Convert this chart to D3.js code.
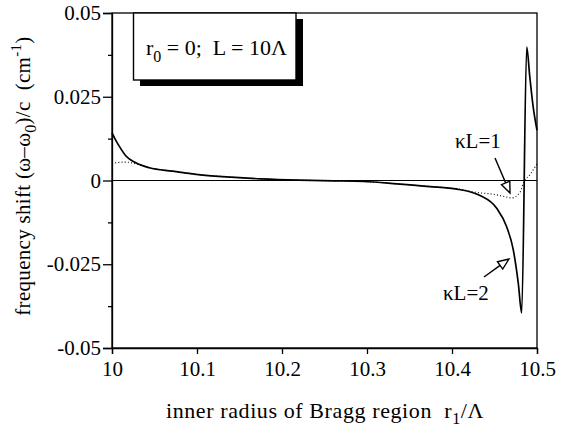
<!DOCTYPE html>
<html>
<head>
<meta charset="utf-8">
<script src="https://cdn.jsdelivr.net/npm/d3@7"></script>
<style>
  body { margin: 0; background: #fff; }
  svg text { font-family: "Liberation Serif", "Times New Roman", serif; white-space: pre; fill: #000; }
  .axis path, .axis line { stroke: #000; stroke-width: 1.3; }
</style>
</head>
<body>
<script>
// kL = 2 (solid)
var rSolid = [10.000, 10.004, 10.0086, 10.0164, 10.028, 10.044, 10.071, 10.104, 10.14, 10.175,
  10.22, 10.26, 10.296, 10.335, 10.374, 10.406, 10.42, 10.433, 10.4526, 10.4643,
  10.4721, 10.478, 10.482, 10.4879, 10.4915, 10.4955, 10.5];
var shiftSolid = [0.0142, 0.0122, 0.0102, 0.0073, 0.0053, 0.0038, 0.0028, 0.0017, 0.0010, 0.0005,
  0.0001, -0.0001, -0.0003, -0.0010, -0.0018, -0.0026, -0.0033, -0.0045, -0.0083, -0.0138,
  -0.0207, -0.0307, -0.0395, 0.0398, 0.031, 0.022, 0.015];

// kL = 1 (dotted)
var rDotted = [10.000, 10.005, 10.016, 10.028, 10.044, 10.071, 10.104, 10.14, 10.175, 10.22,
  10.26, 10.296, 10.335, 10.374, 10.406, 10.433, 10.4486, 10.4604, 10.4702, 10.48,
  10.4847, 10.4918, 10.5];
var shiftDotted = [0.0051, 0.0053, 0.0055, 0.0050, 0.0038, 0.0028, 0.0017, 0.0010, 0.0005, 0.0001,
  -0.0001, -0.0003, -0.0010, -0.0018, -0.0025, -0.0037, -0.0041, -0.0047, -0.0052, -0.0035,
  -0.0004, 0.0018, 0.0050];

var xTicks = [10, 10.1, 10.2, 10.3, 10.4, 10.5];
var xTickLabels = ['10', '10.1', '10.2', '10.3', '10.4', '10.5'];
var yTicks = [0.05, 0.025, 0, -0.025, -0.05];
var yTickLabels = ['0.05', '0.025', '0', '-0.025', '-0.05'];
var yMinor = [0.0375, 0.0125, -0.0125, -0.0375];

var width = 562, height = 430;
var plotLeft = 112, plotRight = 537, plotTop = 13, plotBottom = 348;
var serif = '"Liberation Serif", "Times New Roman", serif';

var svg = d3.select('body').append('svg')
    .attr('width', width)
    .attr('height', height);

var x = d3.scaleLinear().domain([10, 10.5]).range([plotLeft, plotRight]);
var y = d3.scaleLinear().domain([-0.05, 0.05]).range([plotBottom, plotTop]);

// minor ticks
svg.append('g')
    .attr('class', 'axis')
    .attr('transform', 'translate(' + plotLeft + ',0)')
    .call(d3.axisLeft(y).tickValues(yMinor).tickSize(4).tickFormat(''))
    .select('.domain').remove();

svg.append('g')
    .attr('class', 'axis')
    .attr('transform', 'translate(' + plotLeft + ',0)')
    .call(d3.axisLeft(y).tickValues(yTicks).tickSizeOuter(0).tickSize(9).tickPadding(2)
      .tickFormat(function(d, i) { return yTickLabels[i]; }))
    .attr('font-family', serif)
    .attr('font-size', 21);

svg.append('g')
    .attr('class', 'axis')
    .attr('transform', 'translate(0,' + plotBottom + ')')
    .call(d3.axisBottom(x).tickValues(xTicks).tickSizeOuter(0).tickSize(6).tickPadding(7)
      .tickFormat(function(d, i) { return xTickLabels[i]; }))
    .attr('font-family', serif)
    .attr('font-size', 21);

// frame and zero line
svg.append('rect')
    .attr('x', plotLeft).attr('y', plotTop)
    .attr('width', plotRight - plotLeft).attr('height', plotBottom - plotTop)
    .attr('fill', 'none').attr('stroke', '#000').attr('stroke-width', 1.3);

svg.append('line')
    .attr('x1', plotLeft).attr('x2', plotRight)
    .attr('y1', y(0)).attr('y2', y(0))
    .attr('stroke', '#000').attr('stroke-width', 1.2);

var line = d3.line()
    .x(function(d) { return x(d[0]); })
    .y(function(d) { return y(d[1]); })
    .curve(d3.curveMonotoneX);

svg.append('path')
    .datum(d3.zip(rDotted, shiftDotted))
    .attr('d', line)
    .attr('fill', 'none')
    .attr('stroke', '#000')
    .attr('stroke-width', 1.1)
    .attr('stroke-dasharray', '1,2.2');

svg.append('path')
    .datum(d3.zip(rSolid, shiftSolid))
    .attr('d', line)
    .attr('fill', 'none')
    .attr('stroke', '#000')
    .attr('stroke-width', 1.7);

// legend box with shadow
svg.append('rect')
    .attr('x', 140).attr('y', 19).attr('width', 163).attr('height', 67)
    .attr('fill', '#000');
svg.append('rect')
    .attr('x', 133.5).attr('y', 13).attr('width', 162.5).attr('height', 67)
    .attr('fill', '#fff').attr('stroke', '#000').attr('stroke-width', 1.4);

var legend = svg.append('text')
    .attr('x', 146).attr('y', 55)
    .attr('font-size', 22);
legend.append('tspan').text('r');
legend.append('tspan').attr('font-size', 16).attr('dy', 7).text('0');
legend.append('tspan').attr('dy', -7).text(' = 0;  L = 10\u039B');

// annotations
function arrow(x1, y1, x2, y2) {
  var a = Math.atan2(y2 - y1, x2 - x1);
  var len = 11, w = 4.5;
  var bx = x2 - len * Math.cos(a), by = y2 - len * Math.sin(a);
  var px = -Math.sin(a) * w, py = Math.cos(a) * w;
  svg.append('line')
      .attr('x1', x1).attr('y1', y1).attr('x2', bx).attr('y2', by)
      .attr('stroke', '#000').attr('stroke-width', 1.4);
  svg.append('polygon')
      .attr('points', [[x2, y2], [bx + px, by + py], [bx - px, by - py]].join(' '))
      .attr('fill', '#fff').attr('stroke', '#000').attr('stroke-width', 1.4);
}

svg.append('text').attr('x', 455).attr('y', 148).attr('font-size', 21).text('\u03BAL=1');
arrow(495, 158, 510, 193);

svg.append('text').attr('x', 443).attr('y', 300).attr('font-size', 21).text('\u03BAL=2');
arrow(484, 277, 509, 259);

// axis titles
var xt = svg.append('text')
    .attr('x', 325).attr('y', 418)
    .attr('text-anchor', 'middle')
    .attr('font-size', 22)
    .attr('letter-spacing', 0.6);
xt.append('tspan').text('inner radius of Bragg region  r');
xt.append('tspan').attr('font-size', 16).attr('dy', 6).text('1');
xt.append('tspan').attr('dy', -6).text('/\u039B');

var yt = svg.append('text')
    .attr('transform', 'translate(30,176) rotate(-90)')
    .attr('text-anchor', 'middle')
    .attr('font-size', 21)
    .attr('letter-spacing', 0.3);
yt.append('tspan').text('frequency shift (\u03C9\u2013\u03C9');
yt.append('tspan').attr('font-size', 16).attr('dy', 6).text('0');
yt.append('tspan').attr('dy', -6).text(')/c  (cm');
yt.append('tspan').attr('font-size', 15).attr('dy', -9).text('-1');
yt.append('tspan').attr('dy', 9).text(')');
</script>
</body>
</html>
